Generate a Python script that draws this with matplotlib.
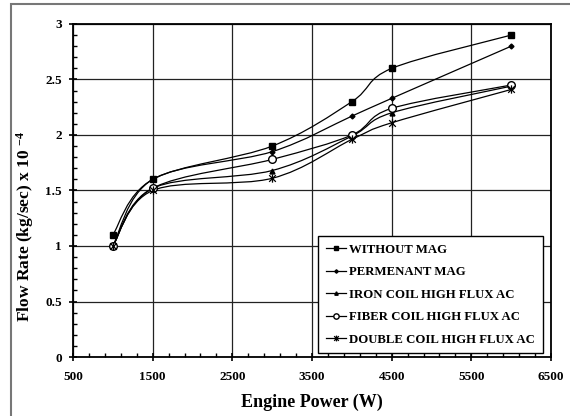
import matplotlib
matplotlib.use("Agg")
import matplotlib.pyplot as plt
from matplotlib.path import Path
from matplotlib.patches import PathPatch, Rectangle
from matplotlib.lines import Line2D
from matplotlib.ticker import FixedLocator
import numpy as np

plt.rcParams['font.family'] = ['Liberation Serif', 'DejaVu Serif']
plt.rcParams['font.weight'] = 'bold'
plt.rcParams['mathtext.fontset'] = 'custom'
plt.rcParams['mathtext.rm'] = 'Liberation Serif:bold'
plt.rcParams['mathtext.it'] = 'Liberation Serif:bold'
plt.rcParams['mathtext.bf'] = 'Liberation Serif:bold'
plt.rcParams['mathtext.default'] = 'rm'

power = [1000, 1500, 3000, 4000, 4500, 6000]
without_mag = [1.10, 1.60, 1.90, 2.30, 2.60, 2.90]
permanent_mag = [1.00, 1.60, 1.85, 2.17, 2.33, 2.80]
iron_coil = [1.00, 1.52, 1.68, 1.99, 2.20, 2.44]
fiber_coil = [1.00, 1.52, 1.78, 2.00, 2.24, 2.45]
double_coil = [1.00, 1.50, 1.61, 1.96, 2.11, 2.41]

labels = ['WITHOUT MAG', 'PERMENANT MAG', 'IRON COIL HIGH FLUX AC',
          'FIBER COIL HIGH FLUX AC', 'DOUBLE COIL HIGH FLUX AC']
xticks = [500, 1500, 2500, 3500, 4500, 5500, 6500]
yticks = [0, 0.5, 1, 1.5, 2, 2.5, 3]

# asterisk marker: vertical bar plus an x
star = Path([(0, -1), (0, 1), (-0.8, -0.8), (0.8, 0.8), (-0.8, 0.8), (0.8, -0.8)],
            [Path.MOVETO, Path.LINETO, Path.MOVETO, Path.LINETO, Path.MOVETO, Path.LINETO])

styles = [
    dict(marker='s', ms=4, mfc='black'),
    dict(marker='D', ms=2.5, mfc='black'),
    dict(marker='^', ms=3.5, mfc='black'),
    dict(marker='o', ms=5.5, mfc='white'),
    dict(marker=star, ms=6, mfc='none', mew=0.9),
]


def smooth_path(xs, ys):
    # Bezier segments through the points, Catmull-Rom style control points
    pts = np.column_stack([xs, ys]).astype(float)
    n = len(pts)
    verts = [pts[0]]
    codes = [Path.MOVETO]
    for i in range(n - 1):
        p0 = pts[max(i - 1, 0)]
        p1 = pts[i]
        p2 = pts[i + 1]
        p3 = pts[min(i + 2, n - 1)]
        c1 = p1 + (p2 - p0) / 6.0
        c2 = p2 - (p3 - p1) / 6.0
        verts += [c1, c2, p2]
        codes += [Path.CURVE4] * 3
    return Path(verts, codes)


fig = plt.figure(figsize=(5.7, 4.16), dpi=100)
ax = fig.add_axes([73 / 570, 1 - 357 / 416, 478 / 570, 333 / 416])

series = [without_mag, permanent_mag, iron_coil, fiber_coil, double_coil]
handles = []
for vals, lab, st in zip(series, labels, styles):
    ax.add_patch(PathPatch(smooth_path(power, vals), fill=False,
                           edgecolor='black', lw=0.9, zorder=3))
    ax.plot(power, vals, linestyle='none', color='black', mec='black',
            zorder=4, **st)
    handles.append(Line2D([], [], color='black', lw=0.9, mec='black', label=lab, **st))

ax.set_xlim(500, 6500)
ax.set_ylim(0, 3)
ax.set_xticks(xticks)
ax.set_xticklabels([str(v) for v in xticks])
ax.set_yticks(yticks)
ax.set_yticklabels([f'{v:g}' for v in yticks])
ax.xaxis.set_minor_locator(FixedLocator(np.arange(700, 6500, 200)))
ax.yaxis.set_minor_locator(FixedLocator(np.arange(0.1, 3.0, 0.1)))
ax.grid(which='major', color='#222222', lw=0.9, zorder=1)
ax.tick_params(which='major', direction='inout', length=6, width=1.2,
               labelsize=9.5, pad=5)
ax.tick_params(axis='x', which='major', pad=7)
ax.tick_params(which='minor', direction='in', length=3, width=1)
for sp in ax.spines.values():
    sp.set_linewidth(1.3)

ax.set_xlabel('Engine Power (W)', fontsize=13, fontweight='bold')
ax.set_ylabel('Flow Rate (kg/sec) x 10 $^{-4}$', fontsize=12.5, fontweight='bold')
ax.xaxis.set_label_coords(0.5, -0.11)
ax.yaxis.set_label_coords(-0.077, 0.393)

leg = ax.legend(handles=handles, loc='upper left',
                bbox_to_anchor=((318 - 73) / 478, (357 - 236) / 333),
                fontsize=9.2, frameon=True, fancybox=False, framealpha=1,
                edgecolor='black', handlelength=1.6, handletextpad=0.25,
                labelspacing=0.82, borderpad=0.6, borderaxespad=0,
                markerscale=0.7)
leg.get_frame().set_linewidth(1.0)
leg.set_zorder(5)

# outer frame of the figure
fig.patches.append(Rectangle((11 / 570, -0.05), 1.2, 1 - 4 / 416 + 0.05,
                             transform=fig.transFigure, fill=False,
                             edgecolor='#777777', lw=1.5))

fig.savefig('out.png', dpi=100)
